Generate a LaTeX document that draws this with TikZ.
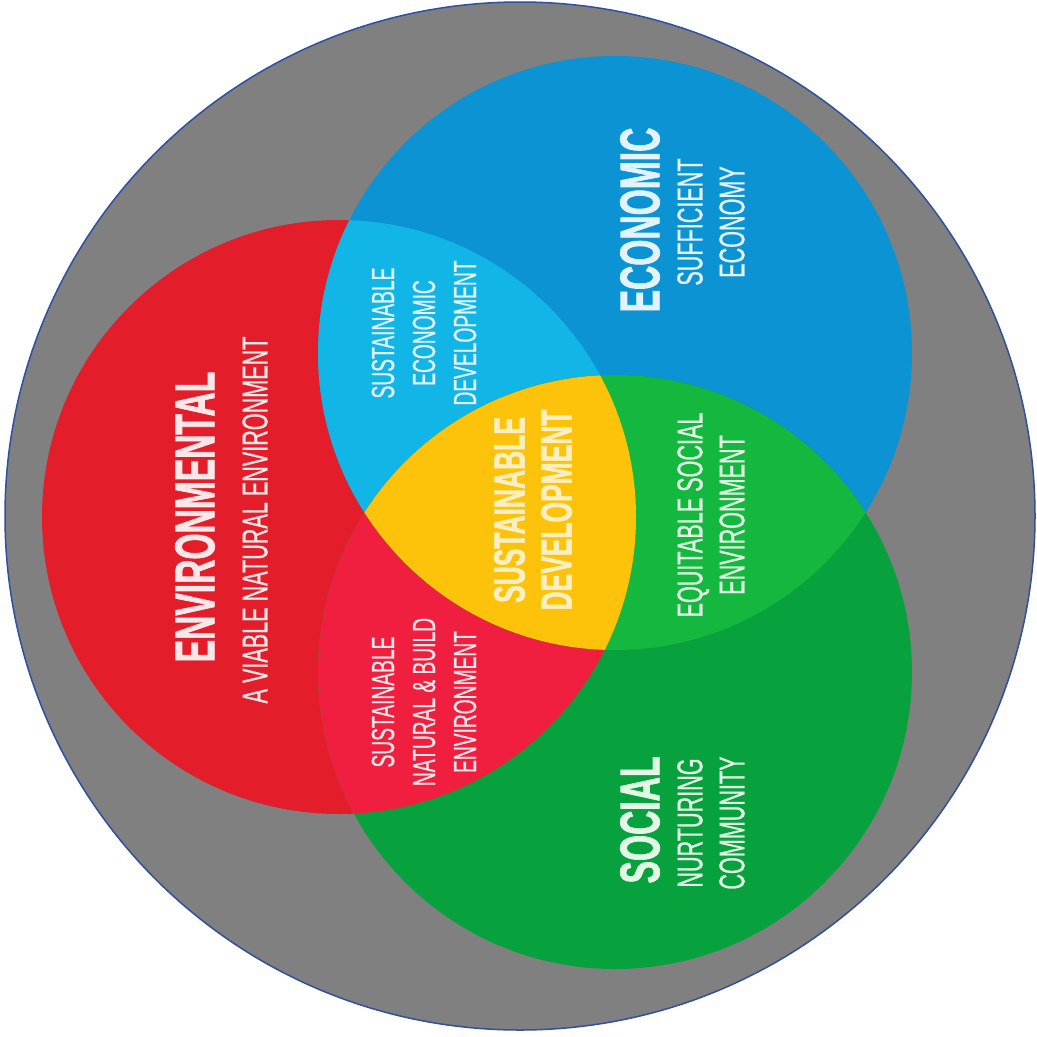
\documentclass[tikz,border=0pt]{standalone}
\usepackage{fontspec}
\newfontfamily\condfont[FakeStretch=0.6,FakeBold=0.6]{Liberation Sans}
\newfontfamily\condheavy[FakeStretch=0.6,FakeBold=1.2]{Liberation Sans}
\definecolor{bggray}{HTML}{808080}
\definecolor{rimblue}{HTML}{2F4F9F}
\definecolor{envred}{HTML}{E31E2A}
\definecolor{ecoblue}{HTML}{0C93D4}
\definecolor{socgreen}{HTML}{07A13D}
\definecolor{cyanmix}{HTML}{12B6E6}
\definecolor{pinkmix}{HTML}{F01F40}
\definecolor{greenmix}{HTML}{14B83F}
\definecolor{coreyellow}{HTML}{FDC30B}
\definecolor{txtred}{HTML}{FBE6E8}
\definecolor{txtblue}{HTML}{E2F3FB}
\definecolor{txtgreen}{HTML}{E3F7E6}
\definecolor{txtyellow}{HTML}{FBEFC0}
\begin{document}
\begin{tikzpicture}[x=1pt,y=-1pt,
  title/.style={rotate=90,inner sep=0pt,align=center,font={\condheavy\bfseries\fontsize{56}{60}\selectfont}},
  subtitle/.style={rotate=90,inner sep=0pt,align=center,font={\condfont\fontsize{36}{42}\selectfont}},
  overlap/.style={rotate=90,inner sep=0pt,align=center,font={\condfont\fontsize{32}{41}\selectfont}},
  core/.style={rotate=90,inner sep=0pt,align=center,font={\condheavy\bfseries\fontsize{44}{47}\selectfont}}]
\useasboundingbox (0,0) rectangle (1037,1037);
% outer disc
\draw[fill=bggray,draw=rimblue,line width=1.5pt] (520,516) ellipse [x radius=515, y radius=514];
% three circles
\def\envcircle{(339,517) circle [radius=297]}
\def\ecocircle{(615,353) circle [radius=297]}
\def\soccircle{(615,672) circle [radius=297]}
\fill[envred] \envcircle;
\fill[ecoblue] \ecocircle;
\fill[socgreen] \soccircle;
\begin{scope}
  \clip \envcircle; \fill[cyanmix] \ecocircle;
\end{scope}
\begin{scope}
  \clip \envcircle; \fill[pinkmix] \soccircle;
\end{scope}
\begin{scope}
  \clip \ecocircle; \fill[greenmix] \soccircle;
\end{scope}
\begin{scope}
  \clip \envcircle; \clip \ecocircle; \fill[coreyellow] \soccircle;
\end{scope}
% texts
\node[title,text=txtred] (envt) at (195,517) {ENVIRONMENTAL};
\node[subtitle,text=txtred] (envs) at (255,520) {A VIABLE NATURAL ENVIRONMENT};
\node[title,text=txtblue] (ecot) at (640,220) {ECONOMIC};
\node[subtitle,text=txtblue] (ecos) at (711,222) {SUFFICIENT\\ECONOMY};
\node[title,text=txtgreen] (soct) at (640,820) {SOCIAL};
\node[subtitle,text=txtgreen] (socs) at (711,823) {NURTURING\\COMMUNITY};
\node[overlap,text=txtblue] (sed) at (424,333) {SUSTAINABLE\\ECONOMIC\\DEVELOPMENT};
\node[overlap,text=txtred] (snb) at (424,702) {SUSTAINABLE\\NATURAL \& BUILD\\ENVIRONMENT};
\node[subtitle,text=txtgreen] (ese) at (711,515) {EQUITABLE SOCIAL\\ENVIRONMENT};
\node[core,text=txtyellow] (sd) at (533,510) {SUSTAINABLE\\DEVELOPMENT};
\end{tikzpicture}
\end{document}
